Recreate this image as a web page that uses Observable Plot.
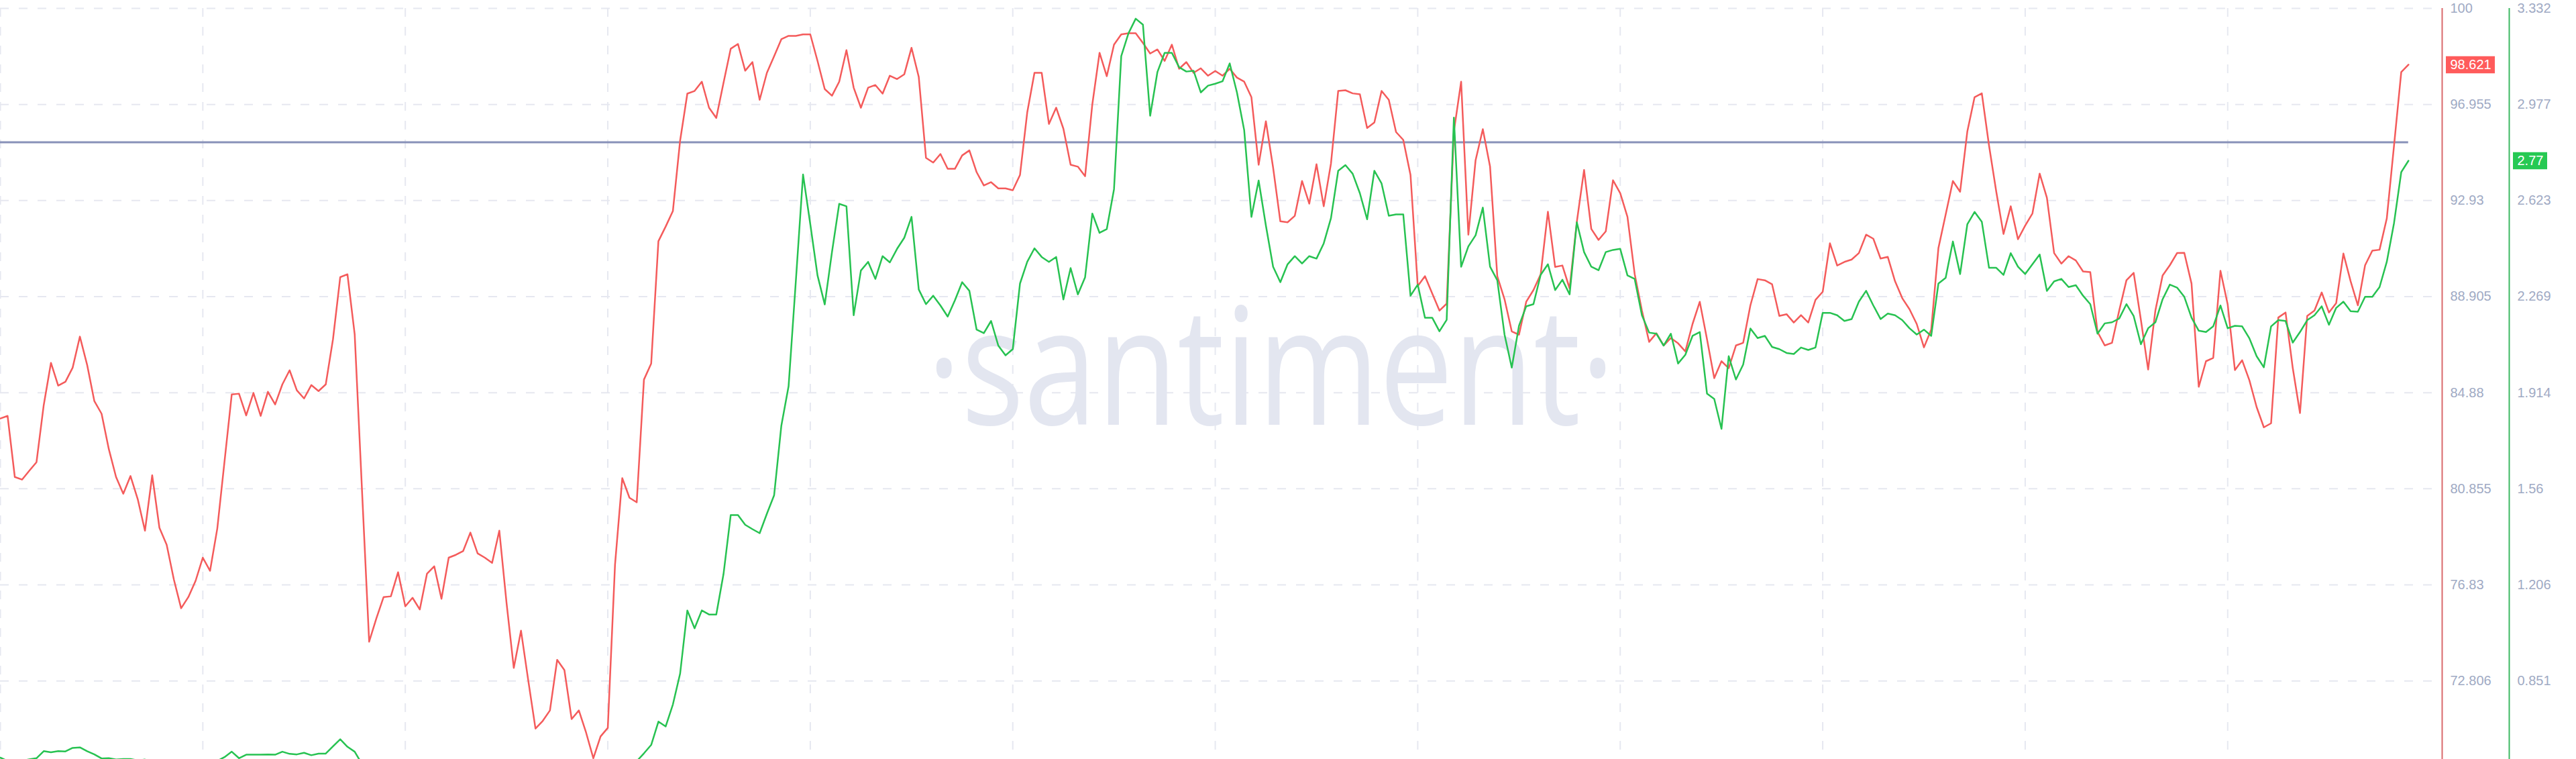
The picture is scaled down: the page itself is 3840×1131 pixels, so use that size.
<!DOCTYPE html>
<html>
<head>
<meta charset="utf-8">
<script src="https://cdn.jsdelivr.net/npm/d3@7"></script>
<script src="https://cdn.jsdelivr.net/npm/@observablehq/plot@0.6"></script>
<style>
  html, body { margin: 0; padding: 0; background: #ffffff; }
  #chart { position: relative; width: 3840px; height: 1131px; overflow: hidden; background: #ffffff; }
  #chart svg { position: absolute; left: 0; top: 0; }
</style>
</head>
<body>
<div id="chart"></div>
<script>
// ---- data ----
const redValues = [
  83.80, 83.91, 81.35, 81.24, 81.61, 81.97, 84.36, 86.13, 85.18, 85.34,
  85.93, 87.23, 86.05, 84.53, 84.00, 82.52, 81.35, 80.65, 81.39, 80.42,
  79.10, 81.42, 79.22, 78.51, 77.05, 75.85, 76.32, 77.00, 77.97, 77.42,
  79.19, 82.00, 84.81, 84.84, 83.93, 84.87, 83.91, 84.92, 84.39, 85.23,
  85.82, 84.98, 84.64, 85.20, 84.95, 85.23, 87.12, 89.72, 89.84, 87.33,
  80.87, 74.45, 75.43, 76.32, 76.35, 77.36, 75.93, 76.29, 75.80, 77.30,
  77.61, 76.25, 77.97, 78.09, 78.25, 79.02, 78.15, 77.97, 77.75, 79.10,
  76.07, 73.35, 74.91, 72.83, 70.81, 71.13, 71.57, 73.69, 73.26, 71.21,
  71.57, 70.64, 69.57, 70.48, 70.84, 77.68, 81.30, 80.48, 80.29, 85.43,
  86.10, 91.23, 91.84, 92.49, 95.44, 97.41, 97.52, 97.91, 96.82, 96.39,
  97.86, 99.29, 99.49, 98.37, 98.73, 97.15, 98.28, 98.98, 99.69, 99.83,
  99.83, 99.89, 99.89, 98.78, 97.60, 97.32, 97.91, 99.23, 97.66, 96.82,
  97.66, 97.77, 97.41, 98.16, 98.02, 98.22, 99.33, 98.11, 94.72, 94.52,
  94.88, 94.26, 94.26, 94.82, 95.03, 94.12, 93.56, 93.70, 93.44, 93.44,
  93.36, 94.00, 96.62, 98.28, 98.28, 96.14, 96.82, 95.94, 94.43, 94.35,
  93.95, 96.96, 99.12, 98.14, 99.46, 99.89, 99.94, 99.94, 99.53, 99.09,
  99.26, 98.78, 99.46, 98.45, 98.73, 98.28, 98.47, 98.16, 98.36, 98.16,
  98.45, 98.08, 97.91, 97.26, 94.43, 96.25, 94.31, 92.06, 92.02, 92.29,
  93.75, 92.80, 94.45, 92.69, 94.48, 97.52, 97.55, 97.42, 97.38, 95.97,
  96.20, 97.52, 97.15, 95.80, 95.47, 94.00, 89.35, 89.76, 89.04, 88.32,
  88.61, 95.83, 97.91, 91.50, 94.62, 95.92, 94.35, 89.76, 88.80, 87.45,
  87.31, 88.69, 89.18, 89.84, 92.46, 90.15, 90.21, 89.25, 92.04, 94.21,
  91.74, 91.28, 91.64, 93.78, 93.24, 92.25, 89.85, 88.32, 87.01, 87.37,
  86.86, 87.17, 86.95, 86.61, 87.76, 88.69, 87.12, 85.49, 86.20, 85.91,
  86.86, 86.97, 88.54, 89.64, 89.59, 89.42, 88.10, 88.17, 87.82, 88.13,
  87.82, 88.77, 89.11, 91.14, 90.21, 90.36, 90.46, 90.73, 91.50, 91.33,
  90.50, 90.57, 89.55, 88.84, 88.38, 87.76, 86.78, 87.52, 90.94, 92.34,
  93.75, 93.30, 95.83, 97.26, 97.42, 95.23, 93.30, 91.53, 92.69, 91.31,
  91.88, 92.39, 94.06, 93.05, 90.73, 90.29, 90.60, 90.42, 89.96, 89.93,
  87.43, 86.86, 86.97, 88.32, 89.59, 89.90, 87.93, 85.85, 88.32, 89.79,
  90.22, 90.73, 90.74, 89.45, 85.13, 86.20, 86.34, 89.99, 88.58, 85.83,
  86.24, 85.40, 84.28, 83.43, 83.60, 88.03, 88.24, 85.91, 84.03, 88.10,
  88.32, 89.08, 88.24, 88.63, 90.71, 89.55, 88.54, 90.22, 90.83, 90.87,
  92.18, 95.23, 98.31, 98.621
];

const greenValues = [
  0.568, 0.556, 0.550, 0.556, 0.562, 0.566, 0.592, 0.588, 0.592, 0.591,
  0.604, 0.606, 0.592, 0.580, 0.565, 0.566, 0.561, 0.563, 0.563, 0.558,
  0.561, 0.545, 0.535, 0.530, 0.525, 0.525, 0.530, 0.535, 0.540, 0.548,
  0.556, 0.570, 0.590, 0.566, 0.579, 0.579, 0.579, 0.580, 0.579, 0.590,
  0.582, 0.580, 0.586, 0.577, 0.583, 0.583, 0.610, 0.636, 0.608, 0.590,
  0.545,
  0.52, 0.51, 0.50, 0.50, 0.49, 0.49, 0.50, 0.51, 0.50, 0.49,
  0.48, 0.48, 0.49, 0.50, 0.50, 0.49, 0.48, 0.47, 0.47, 0.48,
  0.49, 0.48, 0.47, 0.47, 0.46, 0.47, 0.48, 0.49, 0.49, 0.50,
  0.50, 0.51, 0.51, 0.52, 0.52, 0.53, 0.54,
  0.555, 0.584, 0.615, 0.701, 0.683, 0.764, 0.878, 1.111, 1.045, 1.111,
  1.096, 1.096, 1.245, 1.463, 1.463, 1.427, 1.411, 1.396, 1.468, 1.536,
  1.793, 1.938, 2.325, 2.719, 2.536, 2.347, 2.240, 2.433, 2.611, 2.602,
  2.200, 2.365, 2.397, 2.334, 2.418, 2.395, 2.445, 2.486, 2.563, 2.295,
  2.241, 2.272, 2.236, 2.195, 2.255, 2.322, 2.290, 2.147, 2.134, 2.179,
  2.088, 2.052, 2.075, 2.317, 2.397, 2.447, 2.415, 2.397, 2.415, 2.258,
  2.374, 2.277, 2.340, 2.575, 2.504, 2.518, 2.665, 3.156, 3.240, 3.294,
  3.272, 2.936, 3.097, 3.168, 3.168, 3.115, 3.099, 3.102, 3.022, 3.047,
  3.054, 3.063, 3.129, 3.022, 2.883, 2.563, 2.697, 2.531, 2.379, 2.322,
  2.388, 2.418, 2.391, 2.418, 2.409, 2.465, 2.558, 2.733, 2.754, 2.722,
  2.650, 2.554, 2.733, 2.686, 2.567, 2.572, 2.572, 2.272, 2.313, 2.191,
  2.191, 2.141, 2.183, 2.929, 2.379, 2.454, 2.495, 2.597, 2.379, 2.329,
  2.129, 2.007, 2.161, 2.233, 2.241, 2.349, 2.388, 2.293, 2.331, 2.277,
  2.543, 2.433, 2.379, 2.366, 2.433,
  2.441, 2.445, 2.347, 2.334, 2.200, 2.136, 2.132, 2.088, 2.132, 2.022,
  2.054, 2.124, 2.138, 1.911, 1.891, 1.781, 2.049, 1.963, 2.018, 2.151,
  2.116, 2.124, 2.083, 2.075, 2.061, 2.057, 2.081, 2.072, 2.081, 2.209,
  2.209, 2.200, 2.179, 2.186, 2.250, 2.290, 2.236, 2.186, 2.206, 2.200,
  2.182, 2.152, 2.129, 2.147, 2.124, 2.317, 2.338, 2.472, 2.352, 2.536,
  2.581, 2.545, 2.375, 2.375, 2.349, 2.429, 2.379, 2.352, 2.388, 2.424,
  2.290, 2.325, 2.334, 2.304, 2.311, 2.272, 2.241, 2.132, 2.170, 2.174,
  2.188, 2.241, 2.197, 2.093,
  2.152, 2.174, 2.259, 2.313, 2.302, 2.268, 2.191, 2.143, 2.138, 2.159,
  2.236, 2.152, 2.161, 2.159, 2.115, 2.049, 2.008, 2.159, 2.182, 2.179,
  2.099, 2.138, 2.182, 2.200, 2.233, 2.165, 2.227, 2.250, 2.215, 2.213,
  2.268, 2.268, 2.304, 2.397, 2.540, 2.728, 2.77
];

const redTicks = [100.98, 96.955, 92.93, 88.905, 84.88, 80.855, 76.83, 72.806];
const redTickLabels = ["100", "96.955", "92.93", "88.905", "84.88", "80.855", "76.83", "72.806"];
const greenTicks = [3.332, 2.977, 2.623, 2.269, 1.914, 1.56, 1.206, 0.851];
const greenTickLabels = ["3.332", "2.977", "2.623", "2.269", "1.914", "1.56", "1.206", "0.851"];
const gridDays = [0, 28, 56, 84, 112, 140, 168, 196, 224, 252, 280, 308];
const referenceLevel = [95.37];
const watermarkText = ["·santiment·"];

// ---- scales ----
const redDomain = [69.522, 100.98];
const greenDomain = [0.5618, 3.332];
const xMax = 336.36;

const RED = "#f45b5b";
const RED_LABEL = "#ff5b5b";
const GREEN = "#27c251";
const GREEN_LABEL = "#26c953";
const GRID = "#e6e8f0";
const TICK_TEXT = "#9faac4";
const FONT = "'Liberation Sans', Arial, Helvetica, sans-serif";

const redLabelOf = new Map(redTicks.map((t, i) => [t, redTickLabels[i]]));
const greenLabelOf = new Map(greenTicks.map((t, i) => [t, greenTickLabels[i]]));
const lastRed = redValues[redValues.length - 1];
const lastGreen = greenValues[greenValues.length - 1];

const frame = {
  width: 3840, height: 1131,
  marginLeft: 0, marginRight: 214, marginTop: 12, marginBottom: 0,
  x: {domain: [0, xMax], axis: null},
  style: {fontFamily: FONT, fontSize: "20px", background: "transparent"}
};

const base = Plot.plot({
  ...frame,
  y: {domain: redDomain, axis: null},
  marks: [
    Plot.ruleX(gridDays, {stroke: GRID, strokeWidth: 2, strokeDasharray: "13,15"}),
    Plot.ruleY(redTicks, {stroke: GRID, strokeWidth: 2, strokeDasharray: "13,15"}),
    Plot.text(watermarkText, {
      frameAnchor: "top-left", dx: 1894, dy: 620, textAnchor: "middle", lineAnchor: "bottom",
      fontSize: 243, fontFamily: "'Open Sans', sans-serif", fill: "#e3e6f0", ariaLabel: "watermark"
    }),
    Plot.ruleY(referenceLevel, {x1: 0, x2: redValues.length - 1, stroke: "#8891b8", strokeWidth: 3}),
    Plot.lineY(redValues, {x: (d, i) => i, y: d => d, stroke: RED, strokeWidth: 2.5, clip: true}),
    Plot.ruleX([xMax], {dx: 14, stroke: "#d96a6c", strokeWidth: 2}),
    Plot.axisY(redTicks, {
      anchor: "right", tickSize: 0, tickPadding: 26, label: null,
      tickFormat: d => redLabelOf.get(d), color: TICK_TEXT, fontSize: 20
    }),
    Plot.ruleY([lastRed], {x1: xMax, x2: xMax, insetLeft: 20, insetRight: -93, stroke: RED_LABEL, strokeWidth: 25.5}),
    Plot.text([lastRed], {x: xMax, y: d => d, dx: 26, textAnchor: "start", text: d => String(d), fill: "#ffffff", fontSize: 20})
  ]
});

const overlay = Plot.plot({
  ...frame,
  y: {domain: greenDomain, axis: null},
  marks: [
    Plot.lineY(greenValues, {x: (d, i) => i, y: d => d, stroke: GREEN, strokeWidth: 2.5, clip: true}),
    Plot.ruleX([xMax], {dx: 114, stroke: "#3cb862", strokeWidth: 2}),
    Plot.axisY(greenTicks, {
      anchor: "right", tickSize: 0, tickPadding: 126, label: null,
      tickFormat: d => greenLabelOf.get(d), color: TICK_TEXT, fontSize: 20
    }),
    Plot.ruleY([lastGreen], {x1: xMax, x2: xMax, insetLeft: 120, insetRight: -171, stroke: GREEN_LABEL, strokeWidth: 25.5}),
    Plot.text([lastGreen], {x: xMax, y: d => d, dx: 126, textAnchor: "start", text: d => String(d), fill: "#ffffff", fontSize: 20})
  ]
});

const chart = document.getElementById("chart");
chart.appendChild(base);
chart.appendChild(overlay);

// compress the watermark horizontally like the reference
let wm = base.querySelector('g[aria-label="watermark"] text');
if (!wm) wm = Array.from(base.querySelectorAll("text")).find(t => t.textContent === watermarkText[0]);
if (wm) {
  wm.setAttribute("textLength", "1026");
  wm.setAttribute("lengthAdjust", "spacingAndGlyphs");
}
</script>
</body>
</html>
